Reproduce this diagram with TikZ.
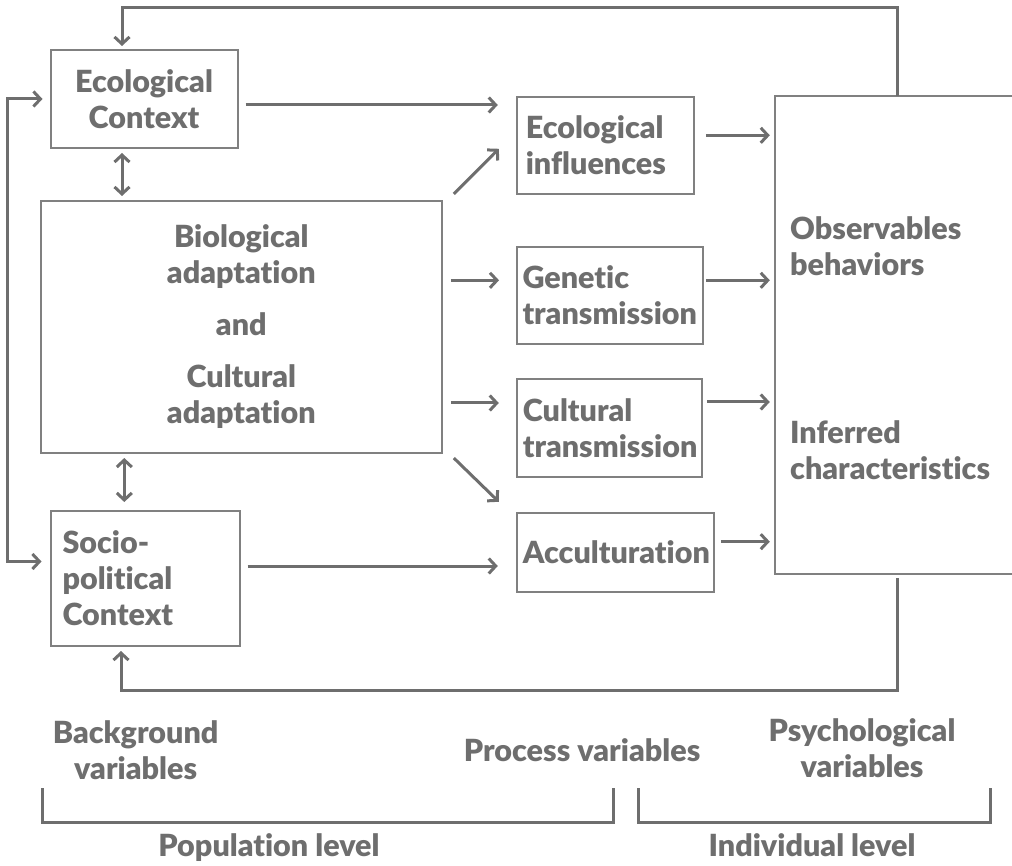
\documentclass[tikz,border=0pt]{standalone}
\usepackage{fontspec}
\setmainfont{Lato}[BoldFont={Lato Black}, Ligatures=NoCommon]
\usepackage{tikz}
\usetikzlibrary{positioning, calc, arrows.meta}
\definecolor{inkgray}{RGB}{110,110,110}
\definecolor{boxgray}{RGB}{128,128,128}

\begin{document}
\begin{tikzpicture}[x=1pt, y=-1pt,
		every node/.style={font=\bfseries\fontsize{30.5}{36}\selectfont, text=inkgray},
		box/.style={draw=boxgray, line width=2pt, inner sep=0pt, align=left},
		arr/.style={draw=inkgray, line width=3pt, -{Straight Barb[length=7pt, width=15pt]}},
		dbl/.style={arr, {Straight Barb[length=7pt, width=15pt]}-{Straight Barb[length=7pt, width=15pt]}},
		brace/.style={draw=inkgray, line width=3pt},
	]
	\useasboundingbox (0,0) rectangle (1012,866);
	% boxes
	\node[box, minimum width=187pt, minimum height=98pt, text width=160pt, align=center] (eco) at (144,99) {Ecological\\Context};
	\node[box, minimum width=401pt, minimum height=252pt, text width=300pt, align=center] (bio) at (241.3,327) {Biological\\adaptation\\[16pt]and\\[16pt]Cultural\\adaptation};
	\node[box, minimum width=189pt, minimum height=135pt, text width=165pt] (socio) at (145,578.5) {Socio-\\political\\Context};
	\node[box, minimum width=177pt, minimum height=97pt, text width=159pt] (ecoinf) at (605.3,145.3) {Ecological\\influences};
	\node[box, minimum width=186pt, minimum height=97pt, text width=175pt] (genetic) at (610,295.3) {Genetic\\transmission};
	\node[box, minimum width=185pt, minimum height=97pt, text width=173pt] (cultural) at (609.3,428) {Cultural\\transmission};
	\node[box, minimum width=197pt, minimum height=79pt, text width=185pt] (accult) at (615.3,552.3) {Acculturation};
	\node[inner sep=0pt, minimum width=237pt, minimum height=478pt] (obs) at (893.5,335) {};
	\draw[boxgray, line width=2pt] (obs.north east) -- (obs.north west) -- (obs.south west) -- (obs.south east);
	\node[anchor=north west, align=left, inner sep=0pt] (observ) at (790,216) {Observables\\behaviors};
	\node[anchor=north west, align=left, inner sep=0pt] (inferred) at (790,420) {Inferred\\characteristics};

	% feedback loops
	\coordinate (fbtop) at (897,8);
	\coordinate (fbbot) at (897,690);
	\draw[arr, shorten >=3pt] (obs.north -| fbtop) -- (fbtop) -| ([xshift=-22pt]eco.north);
	\draw[arr, shorten <=4pt, shorten >=4pt] (obs.south -| fbbot) -- (fbbot) -| ([xshift=-24pt]socio.south);
	\draw[dbl, shorten <=8pt, shorten >=7pt] ([yshift=17pt]socio.west) -- ++(-42,0) |- (eco.west);

	% left column
	\coordinate (eb) at ([xshift=-22pt]eco.south);
	\coordinate (bs) at ([xshift=-117pt]bio.south);
	\draw[dbl, shorten <=4pt, shorten >=4pt] (eb) -- (eb |- bio.north);
	\draw[dbl, shorten <=4pt, shorten >=8pt] (bs) -- (bs |- socio.north);

	% into the process boxes
	\coordinate (ee) at ([yshift=-6pt]eco.east);
	\coordinate (bg) at ([yshift=15pt]genetic.west);
	\coordinate (bc) at ([yshift=25pt]cultural.west);
	\coordinate (sa) at ([yshift=-13.7pt]accult.west);
	\draw[arr, shorten <=7pt, shorten >=18pt] (ee) -- (ee -| ecoinf.west);
	\draw[arr] ([shift={(11,-6)}]bio.north east) -- ([shift={(-17,-46)}]ecoinf.south west);
	\draw[arr, shorten <=8pt, shorten >=17pt] (bg -| bio.east) -- (bg);
	\draw[arr, shorten <=8pt, shorten >=17pt] (bc -| bio.east) -- (bc);
	\draw[arr] ([shift={(11,4)}]bio.south east) -- ([shift={(-17,-10)}]accult.north west);
	\draw[arr, shorten <=7pt, shorten >=18pt] (sa -| socio.east) -- (sa);

	% into the psychological box
	\foreach \nm/\dy/\gp in {ecoinf/10/11, genetic/15/2, cultural/26/4, accult/10.6/6} {
		\coordinate (t) at ([yshift=\dy pt]\nm.east);
		\draw[arr, shorten <=\gp pt, shorten >=5pt] (t) -- (t -| obs.west);
	}

	% levels
	\node[align=center] (bground) at (135.6,750) {Background\\variables};
	\node[anchor=base] (process) at (582,761.7) {Process variables};
	\node[align=center] (psych) at (862,748) {Psychological\\variables};
	\draw[brace] (42,788) -- (42,822) -- (613,822) -- (613,788);
	\draw[brace] (638,788) -- (638,822) -- (990,822) -- (990,788);
	\node[anchor=base] (poplevel) at (269,856) {Population level};
	\node[anchor=base] (indlevel) at (812,856) {Individual level};
\end{tikzpicture}
\end{document}
